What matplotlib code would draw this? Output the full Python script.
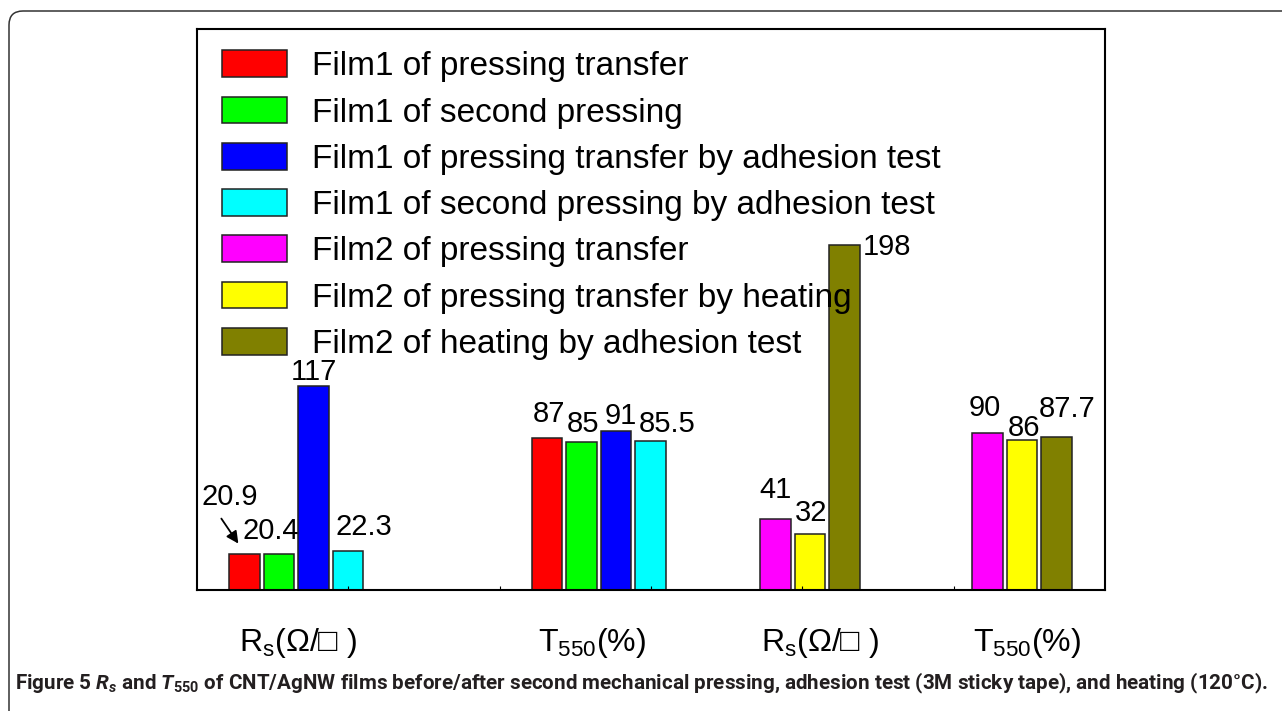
import numpy as np
import matplotlib.pyplot as plt
from matplotlib.patches import FancyBboxPatch, Patch
from matplotlib.transforms import IdentityTransform, offset_copy, blended_transform_factory

plt.rcParams['font.family'] = ['Liberation Sans', 'DejaVu Sans']
plt.rcParams['mathtext.fontset'] = 'custom'
plt.rcParams['mathtext.it'] = 'Roboto:italic:bold'
plt.rcParams['mathtext.rm'] = 'Roboto:bold'

# data
series = ['Film1 of pressing transfer', 'Film1 of second pressing',
          'Film1 of pressing transfer by adhesion test',
          'Film1 of second pressing by adhesion test',
          'Film2 of pressing transfer', 'Film2 of pressing transfer by heating',
          'Film2 of heating by adhesion test']
colors = ['#ff0000', '#00ff00', '#0000ff', '#00ffff', '#ff00ff', '#ffff00', '#808000']

film1_rs = [20.9, 20.4, 117, 22.3]
film1_t = [87, 85, 91, 85.5]
film2_rs = [41, 32, 198]
film2_t = [90, 86, 87.7]
value_text = [['20.9', '20.4', '117', '22.3'], ['87', '85', '91', '85.5'],
              ['41', '32', '198'], ['90', '86', '87.7']]
group_labels = [r'$\mathregular{R_s}$(Ω/□ )', r'$\mathregular{T_{550}}$(%)',
                r'$\mathregular{R_s}$(Ω/□ )', r'$\mathregular{T_{550}}$(%)']

groups = [film1_rs, film1_t, film2_rs, film2_t]
group_colors = [colors[:4], colors[:4], colors[4:], colors[4:]]

# layout (slot units, one slot per bar)
group_start = [1.38, 10.14, 16.77, 22.91]
group_label_shift = [0.05, -0.2, 0.3, 0.15]
xmax = 26.32
bw = 0.885
# label offsets in pixels from bar top-left corner (text baseline)
label_off = [[(-28, 49), (-21, 15), (-8, 6), (3, 16)],
             [(1, 16), (1, 10), (4, 7), (4, 9)],
             [(-1, 21), (0, 13), (33, -10)],
             [(-3, 17), (1, 4), (-2, 20)]]

fig = plt.figure(figsize=(12.82, 7.11), dpi=100)
ax = fig.add_axes([197 / 1282, 1 - 590 / 711, 908 / 1282, 561 / 711])

for g, vals in enumerate(groups):
    xs = group_start[g] + np.arange(len(vals))
    ax.bar(xs, vals, width=bw, color=group_colors[g], edgecolor='#222222', linewidth=1.1)
    for i, v in enumerate(vals):
        dx, dy = label_off[g][i]
        ax.annotate(value_text[g][i], xy=(xs[i] - bw / 2, v), xytext=(dx, dy),
                    textcoords='offset pixels', ha='left', va='baseline', fontsize=21)

# arrow pointing to the 20.9 bar
head = offset_copy(ax.transData, fig=fig, x=9, y=10, units='dots')
ax.annotate('', xy=(group_start[0] - bw / 2, film1_rs[0]), xycoords=head,
            xytext=(-17, 25), textcoords='offset pixels',
            arrowprops=dict(arrowstyle='-|>', color='k', lw=1.3, mutation_scale=18,
                            shrinkA=0, shrinkB=0))

ax.set_xlim(0, xmax)
ax.set_ylim(0, 322)
ax.set_xticks(np.linspace(0, xmax, 7)[1:-1])
ax.set_xticklabels([])
ax.set_yticks([])
ax.tick_params(axis='x', direction='in', length=3, width=0.8)
for s in ax.spines.values():
    s.set_linewidth(1.5)

trans = blended_transform_factory(ax.transData, ax.transAxes)
for g, lab in enumerate(group_labels):
    c = group_start[g] + (len(groups[g]) - 1) / 2 + group_label_shift[g]
    ax.text(c, -0.109, lab, transform=trans, ha='center', va='baseline', fontsize=23)

handles = [Patch(facecolor=c, edgecolor='#222222', linewidth=1.1) for c in colors]
ax.legend(handles, series, loc='upper left', bbox_to_anchor=(0.0275, 0.962),
          frameon=False, fontsize=24, handlelength=1.95, handleheight=0.86,
          handletextpad=0.75, labelspacing=0.43, borderpad=0, borderaxespad=0)

# rounded frame
fig.add_artist(FancyBboxPatch((9, -30), 1400, 730, boxstyle='round,pad=0,rounding_size=14',
                              transform=IdentityTransform(), facecolor='none',
                              edgecolor='#333333', linewidth=1.1))

cap = fig.text(15 / 1282, 1 - 689 / 711,
               r'Figure 5 $\mathit{R_s}$ and $\mathit{T_{550}}$ of CNT/AgNW films before/after second '
               r'mechanical pressing, adhesion test (3M sticky tape), and heating (120°C).',
               family='Roboto', fontweight='bold', fontsize=13, color='#231f20', va='baseline')
r = fig.canvas.get_renderer()
w = cap.get_window_extent(r).width
cap.set_fontsize(13 * 1253 / w)

fig.savefig('out.png', dpi=100)
